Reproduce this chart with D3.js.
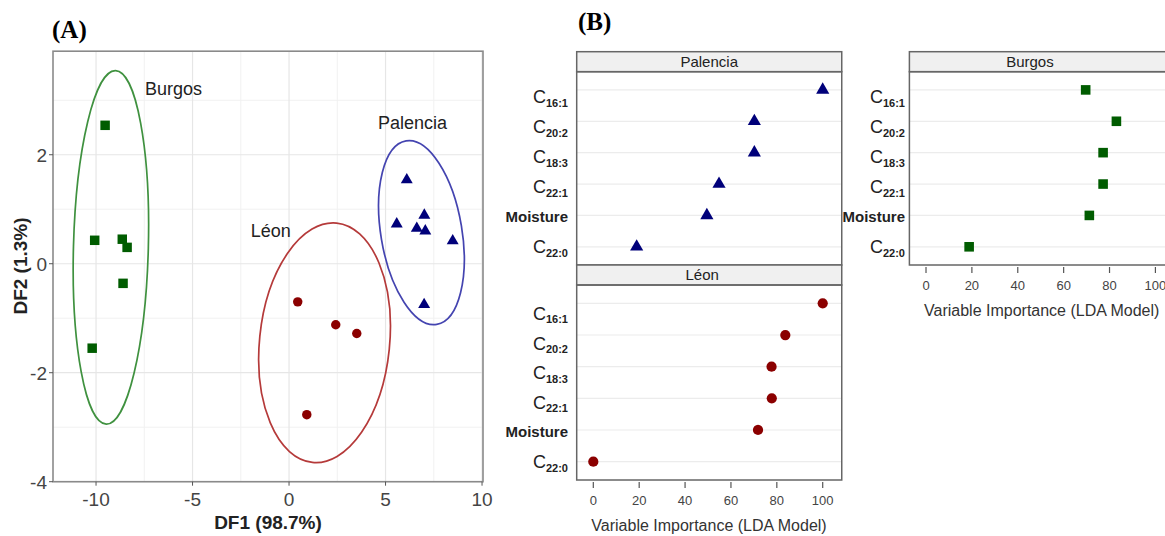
<!DOCTYPE html>
<html>
<head>
<meta charset="utf-8">
<script src="https://cdn.jsdelivr.net/npm/d3@7"></script>
<style>
  body { margin: 0; background: #fff; }
  svg { display: block; font-family: "Liberation Sans", Arial, sans-serif; }
</style>
</head>
<body>
<div id="chart"></div>
<script>
// ---- panel A : LDA scores ----
const burgosX = [-9.53, -10.07, -8.64, -8.39, -8.6, -10.2];
const burgosY = [2.54, 0.43, 0.45, 0.30, -0.36, -1.55];
const palenciaX = [6.1, 5.58, 7.01, 6.62, 7.06, 8.48, 7.0];
const palenciaY = [1.54, 0.73, 0.89, 0.65, 0.60, 0.42, -0.75];
const leonX = [0.45, 2.42, 3.51, 0.92];
const leonY = [-0.70, -1.12, -1.28, -2.77];

// confidence ellipses: centre, half axes (data units), tilt (deg)
const ellipseGroups = ['Burgos', 'Léon', 'Palencia'];
const ellipseCx = [-9.23, 1.84, 6.86];
const ellipseCy = [0.30, -1.45, 0.57];
const ellipseRx = [1.94, 3.37, 2.1];
const ellipseRy = [3.245, 2.207, 1.707];
const ellipseTilt = [1.5, 5.8, -9.5];

const groupLabels = ['Burgos', 'Léon', 'Palencia'];
const groupLabelX = [-7.46, -1.98, 4.61];
const groupLabelY = [3.22, 0.61, 2.59];

const xTicksA = [-10, -5, 0, 5, 10];
const yTicksA = [-4, -2, 0, 2];

// ---- panel B : variable importance ----
const variables = ['C16:1', 'C20:2', 'C18:3', 'C22:1', 'Moisture', 'C22:0'];
const palenciaImp = [100, 70.2, 70.2, 54.8, 49.5, 18.9];
const leonImp = [100, 83.7, 77.7, 77.8, 71.8, 0];
const burgosImp = [69.6, 83.0, 77.2, 77.2, 71.2, 18.8];
const xTicksB = [0, 20, 40, 60, 80, 100];

const green = '#005c00', navy = '#00007a', darkred = '#8b0000';

const W = 1165, H = 536;
const svg = d3.select('#chart').append('svg')
  .attr('width', W)
  .attr('height', H);

// ================= panel A =================
const x = d3.scaleLinear().domain([-12.23, 10.05]).range([53, 483]);
const y = d3.scaleLinear().domain([-4, 3.9]).range([481.7, 51.2]);

const gA = svg.append('g');

// grid
const minorX = d3.range(-12.5, 10.1, 2.5).filter(v => v % 5 !== 0 && v > -12.2);
const minorY = [-3, -1, 1, 3];
gA.selectAll('.mnx').data(minorX).join('line')
  .attr('x1', d => x(d)).attr('x2', d => x(d))
  .attr('y1', y.range()[1]).attr('y2', y.range()[0])
  .attr('stroke', '#f1f1f1').attr('stroke-width', 1);
gA.selectAll('.mny').data(minorY).join('line')
  .attr('y1', d => y(d)).attr('y2', d => y(d))
  .attr('x1', x.range()[0]).attr('x2', x.range()[1])
  .attr('stroke', '#f1f1f1').attr('stroke-width', 1);
gA.selectAll('.mjx').data(xTicksA).join('line')
  .attr('x1', d => x(d)).attr('x2', d => x(d))
  .attr('y1', y.range()[1]).attr('y2', y.range()[0])
  .attr('stroke', '#e6e6e6').attr('stroke-width', 1.2);
gA.selectAll('.mjy').data(yTicksA).join('line')
  .attr('y1', d => y(d)).attr('y2', d => y(d))
  .attr('x1', x.range()[0]).attr('x2', x.range()[1])
  .attr('stroke', '#e6e6e6').attr('stroke-width', 1.2);

// border
gA.append('rect')
  .attr('x', x.range()[0]).attr('y', y.range()[1])
  .attr('width', x.range()[1] - x.range()[0])
  .attr('height', y.range()[0] - y.range()[1])
  .attr('fill', 'none').attr('stroke', '#8a8a8a').attr('stroke-width', 1.6);

// ticks + labels
gA.selectAll('.tx').data(xTicksA).join('line')
  .attr('x1', d => x(d)).attr('x2', d => x(d))
  .attr('y1', y.range()[0]).attr('y2', y.range()[0] + 4)
  .attr('stroke', '#555');
gA.selectAll('.txl').data(xTicksA).join('text')
  .attr('x', d => x(d)).attr('y', 506)
  .attr('text-anchor', 'middle')
  .attr('font-size', 19).attr('fill', '#444')
  .text(d => d);
gA.selectAll('.ty').data(yTicksA).join('line')
  .attr('y1', d => y(d)).attr('y2', d => y(d))
  .attr('x1', x.range()[0] - 4).attr('x2', x.range()[0])
  .attr('stroke', '#555');
gA.selectAll('.tyl').data(yTicksA).join('text')
  .attr('x', 47).attr('y', d => y(d) + 6.8)
  .attr('text-anchor', 'end')
  .attr('font-size', 19).attr('fill', '#444')
  .text(d => d);

gA.append('text')
  .attr('x', (x.range()[0] + x.range()[1]) / 2).attr('y', 529)
  .attr('text-anchor', 'middle')
  .attr('font-size', 19).attr('font-weight', 'bold').attr('fill', '#222')
  .text('DF1 (98.7%)');
gA.append('text')
  .attr('transform', 'translate(27,266) rotate(-90)')
  .attr('text-anchor', 'middle')
  .attr('font-size', 19).attr('font-weight', 'bold').attr('fill', '#222')
  .text('DF2 (1.3%)');

// ellipses
const ellColors = ['#3f913f', '#b53a3a', '#4444b0'];
const ellData = ellipseGroups.map((g, i) => ({
  g, cx: ellipseCx[i], cy: ellipseCy[i], rx: ellipseRx[i], ry: ellipseRy[i], t: ellipseTilt[i], c: ellColors[i]
}));
gA.selectAll('.ell').data(ellData).join('ellipse')
  .attr('transform', d => `translate(${x(d.cx)},${y(d.cy)}) rotate(${d.t})`)
  .attr('rx', d => x(d.cx + d.rx) - x(d.cx))
  .attr('ry', d => y(d.cy) - y(d.cy + d.ry))
  .attr('fill', 'none').attr('stroke', d => d.c).attr('stroke-width', 1.7);

// points
const sq = d3.symbol().type(d3.symbolSquare).size(90);
const tri = d3.symbol().type(d3.symbolTriangle).size(62);
const circ = d3.symbol().type(d3.symbolCircle).size(70);

gA.selectAll('.pb').data(burgosX).join('path')
  .attr('transform', (d, i) => `translate(${x(d)},${y(burgosY[i])})`)
  .attr('d', sq).attr('fill', green);
gA.selectAll('.pp').data(palenciaX).join('path')
  .attr('transform', (d, i) => `translate(${x(d)},${y(palenciaY[i])})`)
  .attr('d', tri).attr('fill', navy);
gA.selectAll('.pl').data(leonX).join('path')
  .attr('transform', (d, i) => `translate(${x(d)},${y(leonY[i])})`)
  .attr('d', circ).attr('fill', darkred);

gA.selectAll('.glab').data(groupLabels).join('text')
  .attr('x', (d, i) => x(groupLabelX[i]))
  .attr('y', (d, i) => y(groupLabelY[i]) + 6.6)
  .attr('font-size', 18).attr('fill', '#222')
  .text(d => d);

svg.append('text')
  .attr('x', 52).attr('y', 38)
  .attr('font-family', '"Liberation Serif", "Times New Roman", serif')
  .attr('font-size', 25).attr('font-weight', 'bold')
  .text('(A)');
svg.append('text')
  .attr('x', 578).attr('y', 30)
  .attr('font-family', '"Liberation Serif", "Times New Roman", serif')
  .attr('font-size', 25).attr('font-weight', 'bold')
  .text('(B)');

// ================= panel B =================
function dotPanel(opts) {
  const { left, stripTop, bottom, name, values, shape, color, axis, labelRight, labelShift, stripShift } = opts;
  const stripH = 20;
  const xs = d3.scaleLinear().domain([-7.24, 108.3]).range([left, left + 115.54 * 2.294]);
  const ys = d3.scalePoint().domain(variables).range([stripTop + stripH, bottom]).padding(0.58);
  const g = svg.append('g');
  const right = xs.range()[1];

  // row grid
  g.selectAll('.rg').data(variables).join('line')
    .attr('x1', left).attr('x2', right)
    .attr('y1', d => ys(d)).attr('y2', d => ys(d))
    .attr('stroke', '#ececec').attr('stroke-width', 1.2);

  // strip
  g.append('rect')
    .attr('x', left).attr('y', stripTop)
    .attr('width', right - left).attr('height', stripH)
    .attr('fill', '#f0f0f0').attr('stroke', '#666').attr('stroke-width', 1.5);
  g.append('text')
    .attr('x', (left + Math.min(right, W + 30)) / 2 - (right > W ? 12 : 0) + stripShift)
    .attr('y', stripTop + 15.4)
    .attr('text-anchor', 'middle')
    .attr('font-size', 15).attr('fill', '#222')
    .text(name);

  // panel box
  g.append('rect')
    .attr('x', left).attr('y', stripTop + stripH)
    .attr('width', right - left).attr('height', bottom - stripTop - stripH)
    .attr('fill', 'none').attr('stroke', '#666').attr('stroke-width', 1.5);

  // row labels (their spacing in the figure is a bit tighter than the rows)
  const n = variables.length - 1;
  const lab = g.selectAll('.rl').data(variables).join('text')
    .attr('x', labelRight)
    .attr('text-anchor', 'end')
    .attr('fill', '#222');
  lab.each(function (d, i) {
    const t = d3.select(this);
    const cy = ys(d) + labelShift * (1 - i / n);
    const m = d.match(/^C(\d+:\d+)$/);
    if (m) {
      t.attr('y', cy + 6.5);
      t.append('tspan').attr('font-size', 18).text('C');
      t.append('tspan').attr('font-size', 11).attr('font-weight', 'bold')
        .attr('dy', 3.5).text(m[1]);
    } else {
      t.attr('y', cy + 5.5)
        .attr('font-size', 15).attr('font-weight', 'bold')
        .text(d);
    }
  });

  // points
  g.selectAll('.pt').data(values).join('path')
    .attr('transform', (d, i) => `translate(${xs(d)},${ys(variables[i])})`)
    .attr('d', shape).attr('fill', color);

  if (axis) {
    g.selectAll('.bt').data(xTicksB).join('line')
      .attr('x1', d => xs(d)).attr('x2', d => xs(d))
      .attr('y1', bottom + 2).attr('y2', bottom + 8)
      .attr('stroke', '#555').attr('stroke-width', 1.2);
    g.selectAll('.btl').data(xTicksB).join('text')
      .attr('x', d => xs(d)).attr('y', bottom + 25)
      .attr('text-anchor', 'middle')
      .attr('font-size', 13).attr('fill', '#444')
      .text(d => d);
    g.append('text')
      .attr('x', (xs(0) + xs(100)) / 2 + 1).attr('y', bottom + 51)
      .attr('text-anchor', 'middle')
      .attr('font-size', 16).attr('fill', '#333')
      .text('Variable Importance (LDA Model)');
  }
}

const triB = d3.symbol().type(d3.symbolTriangle).size(75);
const sqB = d3.symbol().type(d3.symbolSquare).size(92);
const circB = d3.symbol().type(d3.symbolCircle).size(82);

dotPanel({ left: 576.7, stripTop: 51.7, bottom: 265, name: 'Palencia', values: palenciaImp,
  shape: triB, color: navy, axis: false, labelRight: 568, labelShift: 7, stripShift: 0 });
dotPanel({ left: 576.7, stripTop: 265, bottom: 480, name: 'Léon', values: leonImp,
  shape: circB, color: darkred, axis: true, labelRight: 568, labelShift: 10, stripShift: -7 });
dotPanel({ left: 909.4, stripTop: 51.7, bottom: 265, name: 'Burgos', values: burgosImp,
  shape: sqB, color: green, axis: true, labelRight: 905, labelShift: 7, stripShift: 0 });
</script>
</body>
</html>
